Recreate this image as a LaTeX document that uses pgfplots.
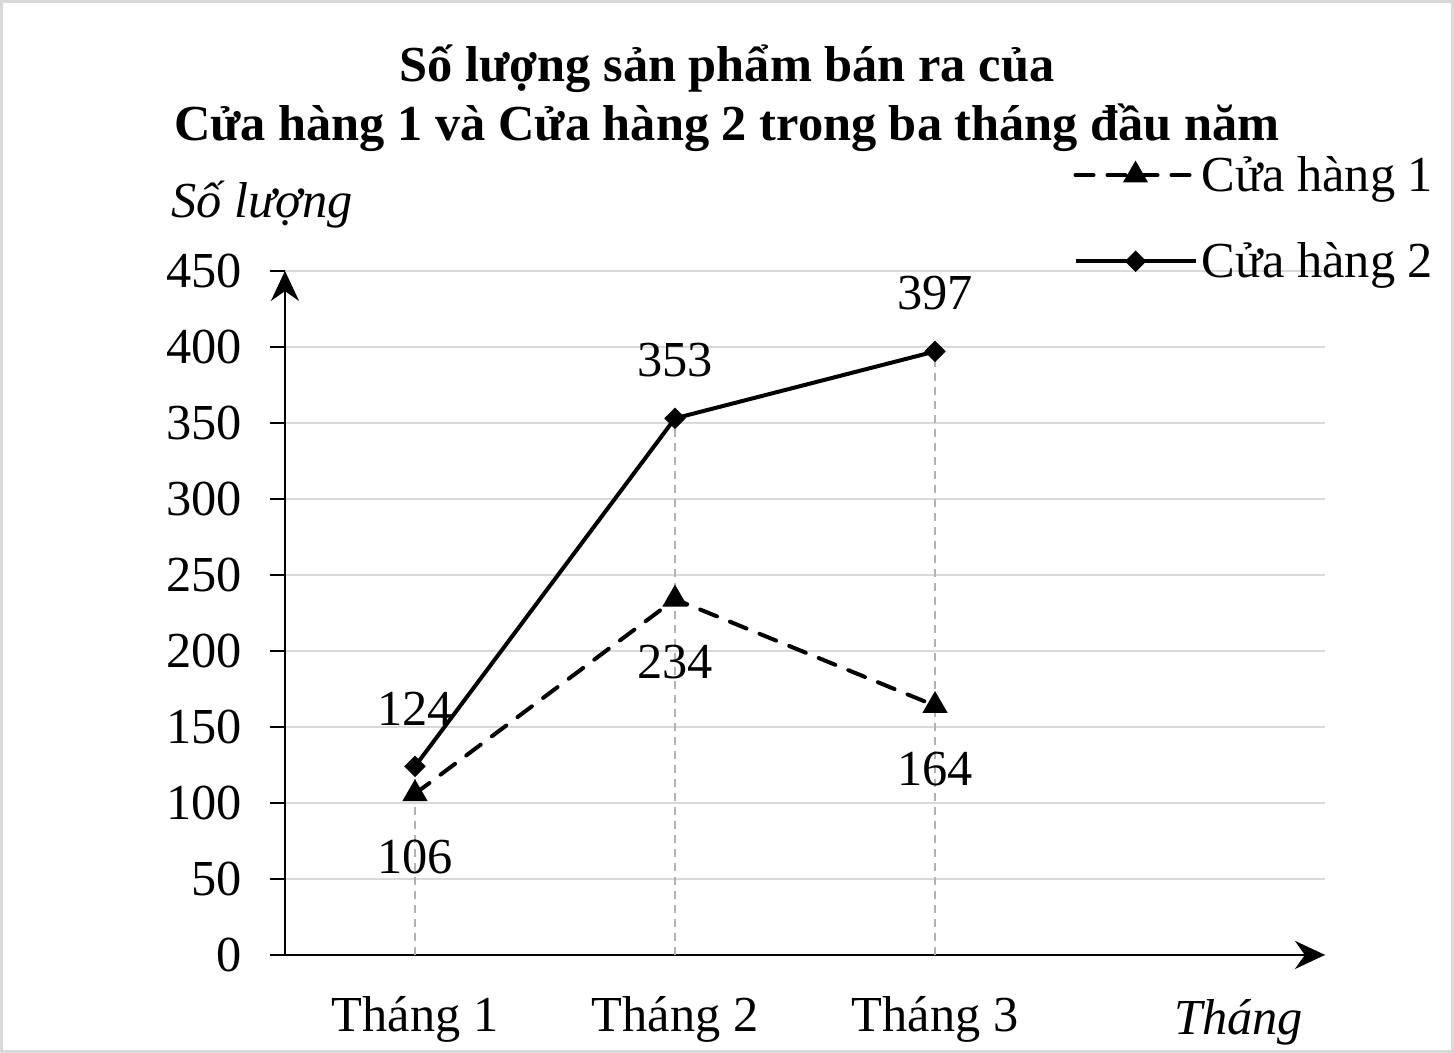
\documentclass[border=0pt]{standalone}
\usepackage{pgfplots}
\pgfplotsset{compat=1.18}
\usetikzlibrary{arrows.meta}
\usepackage{fontspec}
\setmainfont{Liberation Serif}
\newcommand{\bigf}{\fontsize{25.2}{29.5}\selectfont}
\begin{document}
\begin{tikzpicture}[font=\bigf]
\begin{axis}[
  scale only axis, width=520pt, height=342pt,
  xmin=0.5, xmax=4.5, ymin=0, ymax=450,
  axis x line=bottom, axis y line=left,
  axis line style={line width=1.3pt, -{Stealth[length=15pt,width=14pt]}},
  xtick={1,2,3}, xticklabels={Tháng 1,Tháng 2,Tháng 3},
  xtick style={draw=none},
  ytick={0,50,...,450},
  ytick style={line width=1.3pt, black},
  tick align=outside, major tick length=7.5pt,
  ymajorgrids, grid style={gray!30, line width=1pt},
  /pgf/number format/assume math mode=true,
  tick label style={font=\bigf},
  xticklabel style={yshift=-9.5pt},
  yticklabel style={xshift=-10.5pt},
  clip=false,
  legend style={at={(rel axis cs:0.752,1.18)}, anchor=north west, draw=none, fill=none, font=\bigf, row sep=20pt},
  legend cell align=left,
  legend image code/.code={\draw[mark repeat=2,mark phase=2,#1] plot coordinates {(0pt,0pt) (30pt,0pt) (60pt,0pt)};},
]
\addplot[black, line width=2pt, dash pattern=on 9pt off 7pt, line cap=round,
  mark=triangle*, mark size=6.5pt, mark options={solid, line width=0.8pt},
  nodes near coords, every node near coord/.append style={anchor=center, yshift=-31.5pt, black, font=\bigf}]
  coordinates {(1,106) (2,234) (3,164)};
\addlegendentry{Cửa hàng 1}
\addplot[black, line width=2pt,
  mark=square*, mark size=3.4pt, mark options={solid, rotate=45, line width=0.8pt},
  nodes near coords, every node near coord/.append style={anchor=center, yshift=29pt, black, font=\bigf}]
  coordinates {(1,124) (2,353) (3,397)};
\addlegendentry{Cửa hàng 2}
\addplot[forget plot, ycomb, gray!60, line width=1pt, dash pattern=on 4pt off 3pt]
  coordinates {(1,124) (2,353) (3,397)};
\node[font=\bfseries\bigf, align=center] at (rel axis cs:0.425,1.252)
  {Số lượng sản phẩm bán ra của\\Cửa hàng 1 và Cửa hàng 2 trong ba tháng đầu năm};
\node[font=\itshape\bigf] at (rel axis cs:-0.022,1.0965) {Số lượng};
\node[font=\itshape\bigf] at (rel axis cs:0.917,-0.099) {Tháng};
\coordinate (fa) at (rel axis cs:-0.274,-0.1433);
\coordinate (fb) at (rel axis cs:1.124,1.396);
\end{axis}
\pgfresetboundingbox
\path[use as bounding box] (fa) rectangle (fb);
\draw[gray!30, line width=1.5pt] ([shift={(0.75pt,0.75pt)}]fa) rectangle ([shift={(-0.75pt,-0.75pt)}]fb);
\end{tikzpicture}
\end{document}
